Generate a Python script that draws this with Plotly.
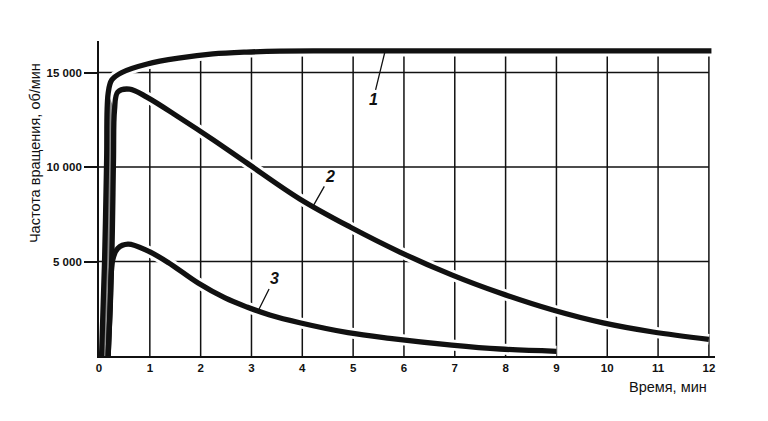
import numpy as np
import plotly.graph_objects as go

# ---- data (time in min, speed in rpm) ----
t1 = [0.05, 0.11, 0.15, 0.18, 0.25, 0.45, 0.95, 1.6, 2.24, 2.9, 3.56, 4.5, 6, 8, 10, 12.05]
v1 = [0, 5080, 10370, 13900, 14600, 15000, 15450, 15770, 15980, 16080, 16130, 16140, 16140, 16140, 16140, 16140]

t2 = [0.18, 0.25, 0.285, 0.305, 0.37, 0.6, 0.94, 1.59, 2.24, 2.91, 3.95, 4.94, 5.92, 6.94, 7.89, 8.93, 9.92, 10.9, 12.0]
v2 = [0, 5080, 10370, 13000, 13970, 14120, 13700, 12600, 11450, 10210, 8310, 6825, 5500, 4290, 3330, 2430, 1750, 1270, 880]

t3 = [0.18, 0.22, 0.27, 0.37, 0.57, 0.96, 1.36, 1.95, 2.48, 2.91, 3.36, 3.95, 4.9, 5.72, 6.94, 7.89, 9.0]
v3 = [0, 2500, 5080, 5700, 5920, 5560, 4950, 3860, 3070, 2590, 2170, 1760, 1235, 935, 580, 370, 250]

x_ticks = list(range(13))
y_tickvals = [5000, 10000, 15000]
y_ticktext = ["5 000", "10 000", "15 000"]

curve_labels = ["1", "2", "3"]
label_t = [5.63, 4.21, 3.13]
label_offsets = [(-12, 49), (17, -30), (16, -32)]

x_title = "Время, мин"
y_title = "Частота вращения, об/мин"

# ---- figure ----
BLACK = "#111111"
fig = go.Figure()

# vertical grid lines up to curve 1
gx, gy = [], []
for k in x_ticks[1:]:
    gx += [k, k, None]
    gy += [0, float(np.interp(k, t1, v1)), None]
fig.add_trace(go.Scatter(x=gx, y=gy, mode="lines",
                         line=dict(color=BLACK, width=1.5), hoverinfo="skip"))
# horizontal grid lines
hx, hy = [], []
for v in y_tickvals:
    hx += [0, x_ticks[-1], None]
    hy += [v, v, None]
fig.add_trace(go.Scatter(x=hx, y=hy, mode="lines",
                         line=dict(color=BLACK, width=1.5), hoverinfo="skip"))

# stippled band between the rises of curves 1 and 2
px_ = t1[:4] + t2[:4][::-1]
py_ = v1[:4] + v2[:4][::-1]
fig.add_trace(go.Scatter(x=px_, y=py_, mode="lines", fill="toself",
                         fillcolor="#8c8c8c", line=dict(width=0), hoverinfo="skip"))

# white halos (gaps around curves)
for t, v, i0 in [(t1, v1, 3), (t2, v2, 4), (t3, v3, 3)]:
    fig.add_trace(go.Scatter(x=t[i0:], y=v[i0:], mode="lines",
                             line=dict(color="white", width=11, shape="spline"),
                             hoverinfo="skip"))
# curves
for t, v in [(t1, v1), (t2, v2), (t3, v3)]:
    fig.add_trace(go.Scatter(x=t, y=v, mode="lines",
                             line=dict(color=BLACK, width=5.3, shape="spline"),
                             hoverinfo="skip"))

# curve labels with leader lines
for lab, lt, (ax, ay), (t, v) in zip(curve_labels, label_t, label_offsets,
                                     [(t1, v1), (t2, v2), (t3, v3)]):
    fig.add_annotation(x=lt, y=float(np.interp(lt, t, v)), text=lab,
                       showarrow=True, arrowhead=0, arrowwidth=1.3, arrowcolor=BLACK,
                       ax=ax, ay=ay, standoff=0,
                       font=dict(family="Liberation Sans", size=16, color=BLACK,
                                 weight="bold", style="italic"))

# axis titles
fig.add_annotation(xref="paper", yref="paper", x=-0.104, y=0.644, text=y_title,
                   textangle=-90, showarrow=False, xanchor="center", yanchor="middle",
                   font=dict(family="Liberation Sans", size=14.5, color=BLACK))
fig.add_annotation(xref="paper", yref="paper", x=0.990, y=-0.098, text=x_title,
                   showarrow=False, xanchor="right", yanchor="middle",
                   font=dict(family="Liberation Sans", size=14.5, color=BLACK))

fig.update_layout(
    width=760, height=413,
    margin=dict(l=91, r=53, t=33, b=65),
    paper_bgcolor="white", plot_bgcolor="white",
    showlegend=False,
    xaxis=dict(range=[0, 12.12], tickvals=x_ticks, ticks="", showgrid=False,
               zeroline=False, showline=True, linecolor=BLACK, linewidth=1.8,
               layer="above traces",
               tickfont=dict(family="Liberation Sans", size=11.5, color=BLACK, weight="bold")),
    yaxis=dict(range=[0, 16667], tickvals=y_tickvals, ticktext=y_ticktext,
               ticks="outside", ticklen=13, tickwidth=1.5, tickcolor=BLACK,
               showgrid=False, zeroline=False, showline=True, linecolor=BLACK,
               linewidth=1.8, layer="above traces",
               tickfont=dict(family="Liberation Sans", size=11.5, color=BLACK, weight="bold")),
)

fig.write_html("out.html")
